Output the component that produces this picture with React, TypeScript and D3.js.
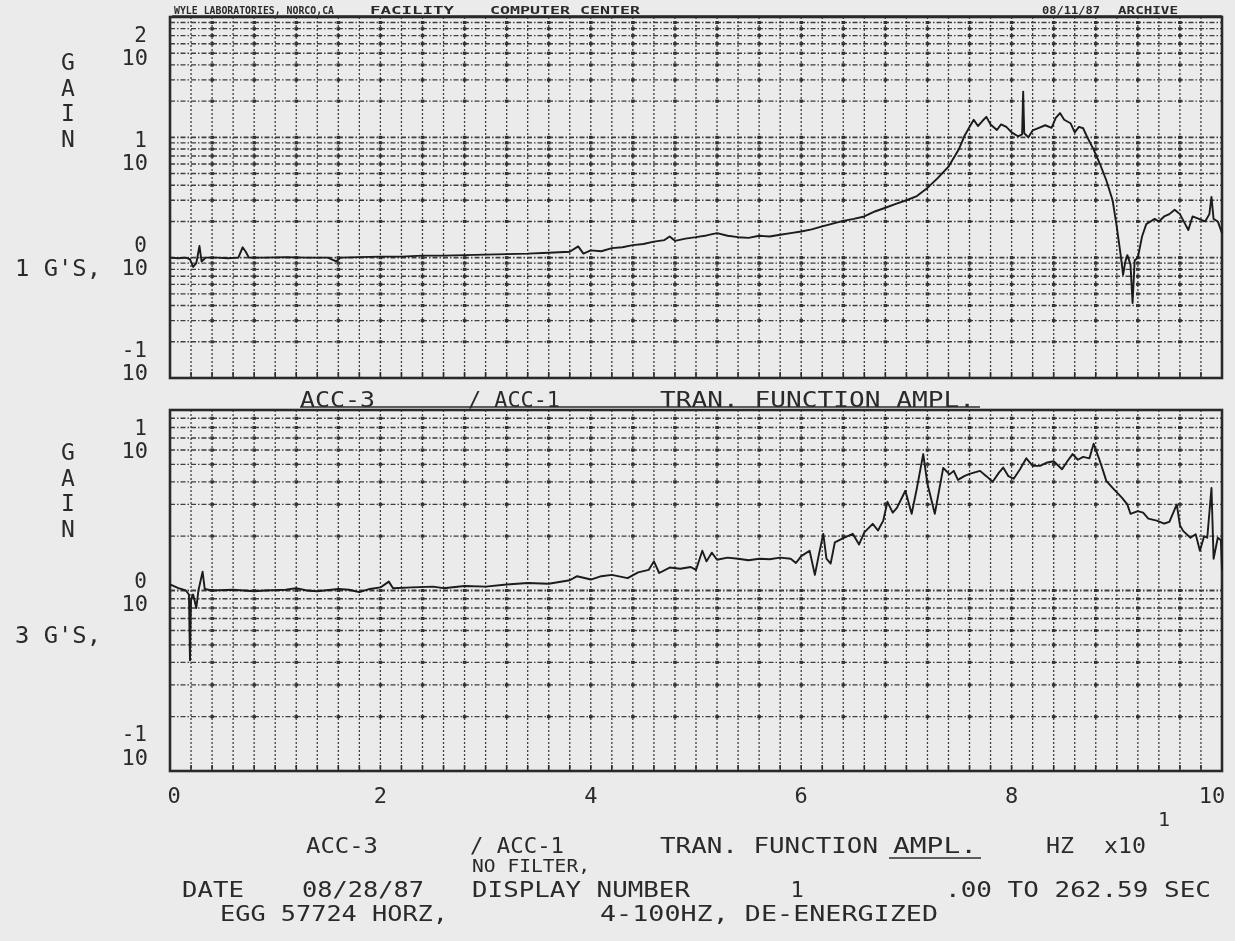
import React, { useEffect, useRef } from 'react';
import * as d3 from 'd3';

const W = 1235;
const H = 941;

// x is frequency in units of 10 Hz (axis reads "HZ x10^1")
const xTicks = [0, 2, 4, 6, 8, 10];
const upperDecades = [-1, 0, 1, 2];
const lowerDecades = [-1, 0, 1];

// ACC-3 / ACC-1 transfer function, 1 G's input
const upperPoints = [
  [0.0, 1.0], [0.08, 0.99], [0.15, 1.0], [0.19, 0.97], [0.22, 0.84], [0.25, 0.9], [0.28, 1.25],
  [0.3, 0.93], [0.34, 1.0], [0.45, 1.0], [0.55, 0.99], [0.65, 1.0], [0.69, 1.22], [0.72, 1.12],
  [0.75, 1.0], [0.9, 1.0], [1.1, 1.01], [1.3, 1.0], [1.5, 1.0], [1.58, 0.93], [1.62, 1.0],
  [1.8, 1.01], [2.0, 1.02], [2.2, 1.02], [2.4, 1.04], [2.6, 1.04], [2.8, 1.05], [3.0, 1.06],
  [3.2, 1.07], [3.4, 1.08], [3.6, 1.1], [3.8, 1.12], [3.88, 1.24], [3.93, 1.08], [4.0, 1.15],
  [4.1, 1.13], [4.2, 1.2], [4.3, 1.22], [4.4, 1.27], [4.5, 1.3], [4.6, 1.36], [4.7, 1.4],
  [4.75, 1.5], [4.8, 1.38], [4.9, 1.44], [5.0, 1.48], [5.1, 1.53], [5.2, 1.6], [5.3, 1.52],
  [5.4, 1.48], [5.5, 1.46], [5.6, 1.52], [5.7, 1.5], [5.8, 1.55], [5.9, 1.6], [6.0, 1.65],
  [6.1, 1.72], [6.2, 1.82], [6.3, 1.92], [6.4, 2.02], [6.5, 2.1], [6.6, 2.2], [6.7, 2.42],
  [6.8, 2.6], [6.9, 2.8], [7.0, 3.0], [7.1, 3.25], [7.2, 3.8], [7.3, 4.6], [7.4, 5.7],
  [7.5, 8.0], [7.55, 10.2], [7.6, 12.2], [7.64, 14.0], [7.68, 12.4], [7.72, 13.6], [7.76, 14.8],
  [7.8, 12.8], [7.86, 11.5], [7.9, 12.8], [7.95, 12.2], [8.0, 11.0], [8.06, 10.2], [8.1, 10.6],
  [8.11, 24], [8.12, 10.8], [8.16, 10.0], [8.2, 11.4], [8.26, 12.0], [8.32, 12.6], [8.38, 12.0],
  [8.42, 14.5], [8.46, 15.9], [8.5, 14.0], [8.56, 13.1], [8.6, 11.0], [8.64, 12.2], [8.68, 11.9],
  [8.72, 10.0], [8.78, 7.9], [8.84, 6.0], [8.9, 4.4], [8.96, 3.0], [9.0, 1.8], [9.04, 1.0],
  [9.06, 0.72], [9.08, 0.92], [9.1, 1.05], [9.13, 0.88], [9.15, 0.42], [9.17, 0.95], [9.2, 1.0],
  [9.24, 1.5], [9.28, 1.9], [9.32, 2.0], [9.36, 2.1], [9.4, 2.0], [9.45, 2.2], [9.5, 2.3],
  [9.55, 2.5], [9.6, 2.3], [9.65, 1.9], [9.68, 1.7], [9.72, 2.2], [9.78, 2.1], [9.84, 2.0],
  [9.88, 2.3], [9.9, 3.2], [9.92, 2.1], [9.96, 2.0], [10.0, 1.6],
];

// ACC-3 / ACC-1 transfer function, 3 G's input
const lowerPoints = [
  [0.0, 1.08], [0.08, 1.03], [0.15, 1.0], [0.18, 0.95], [0.19, 0.41], [0.2, 0.9], [0.22, 0.95],
  [0.25, 0.8], [0.27, 1.0], [0.31, 1.27], [0.33, 1.02], [0.4, 1.0], [0.6, 1.01], [0.8, 0.99],
  [0.9, 1.0], [1.1, 1.01], [1.2, 1.03], [1.3, 1.0], [1.4, 0.99], [1.6, 1.02], [1.7, 1.01],
  [1.8, 0.98], [1.9, 1.02], [2.0, 1.04], [2.08, 1.12], [2.12, 1.03], [2.3, 1.04], [2.5, 1.05],
  [2.6, 1.03], [2.8, 1.06], [3.0, 1.05], [3.2, 1.08], [3.4, 1.1], [3.6, 1.09], [3.8, 1.14],
  [3.87, 1.2], [4.0, 1.15], [4.1, 1.2], [4.2, 1.22], [4.35, 1.17], [4.45, 1.26], [4.55, 1.3],
  [4.6, 1.45], [4.65, 1.25], [4.75, 1.34], [4.85, 1.32], [4.95, 1.35], [5.0, 1.3], [5.06, 1.66],
  [5.1, 1.45], [5.15, 1.62], [5.2, 1.48], [5.3, 1.52], [5.4, 1.5], [5.5, 1.47], [5.6, 1.5],
  [5.7, 1.49], [5.8, 1.52], [5.9, 1.5], [5.95, 1.42], [6.0, 1.55], [6.08, 1.66], [6.13, 1.22],
  [6.17, 1.6], [6.21, 2.06], [6.24, 1.5], [6.28, 1.41], [6.32, 1.85], [6.4, 1.95], [6.49, 2.06],
  [6.55, 1.8], [6.6, 2.1], [6.68, 2.34], [6.73, 2.15], [6.78, 2.44], [6.82, 3.1], [6.87, 2.7],
  [6.91, 2.87], [6.99, 3.57], [7.05, 2.66], [7.1, 3.7], [7.16, 5.7], [7.2, 3.9], [7.27, 2.66],
  [7.35, 4.78], [7.41, 4.4], [7.45, 4.6], [7.49, 4.1], [7.55, 4.3], [7.6, 4.43], [7.7, 4.6],
  [7.76, 4.3], [7.82, 4.0], [7.88, 4.5], [7.92, 4.8], [7.97, 4.3], [8.02, 4.16], [8.08, 4.7],
  [8.14, 5.4], [8.2, 4.9], [8.27, 4.9], [8.33, 5.1], [8.4, 5.2], [8.48, 4.7], [8.53, 5.2],
  [8.58, 5.7], [8.63, 5.3], [8.68, 5.5], [8.74, 5.4], [8.78, 6.5], [8.83, 5.4], [8.87, 4.6],
  [8.9, 4.05], [8.96, 3.7], [9.05, 3.26], [9.1, 3.0], [9.13, 2.66], [9.2, 2.75], [9.25, 2.7],
  [9.3, 2.5], [9.38, 2.44], [9.45, 2.35], [9.5, 2.4], [9.57, 3.0], [9.6, 2.3], [9.63, 2.14],
  [9.7, 1.96], [9.75, 2.05], [9.79, 1.66], [9.83, 2.0], [9.86, 1.96], [9.9, 3.7], [9.92, 1.5],
  [9.96, 1.96], [9.99, 1.9], [10.0, 1.3],
];

const INK = '#2b2b2b';
const GRID = '#3f3f3f';
const FONT = '"DejaVu Sans Mono", "Liberation Mono", monospace';

export default function App() {
  const ref = useRef<SVGSVGElement>(null);

  useEffect(() => {
    const svg = d3.select(ref.current);
    svg.selectAll('*').remove();

    svg.append('defs').append('filter').attr('id', 'scan')
      .append('feGaussianBlur').attr('stdDeviation', 0.55);

    svg.append('rect').attr('width', W).attr('height', H).attr('fill', '#ebebeb');
    const root = svg.append('g').attr('filter', 'url(#scan)');

    const x = d3.scaleLinear().domain([0, 10]).range([170, 1222]);

    // text helper, cy = middle of the capitals
    const text = (str, tx, cy, o: any = {}) => {
      const fs = o.fs || 22;
      const t = root.append('text')
        .attr('x', tx)
        .attr('y', cy + fs * 0.36)
        .attr('font-family', FONT)
        .attr('font-size', fs)
        .attr('fill', INK)
        .attr('text-anchor', o.anchor || 'start')
        .text(str);
      if (o.w) t.attr('textLength', o.w).attr('lengthAdjust', 'spacingAndGlyphs');
      if (o.bold) t.attr('font-weight', 'bold');
      return t;
    };
    const rule = (x1, x2, ly, sw = 1.6) => root.append('line')
      .attr('x1', x1).attr('x2', x2).attr('y1', ly).attr('y2', ly)
      .attr('stroke', INK).attr('stroke-width', sw);

    const drawPanel = (panel, points) => {
      const { top, bottom, decades } = panel;
      const y = d3.scaleLog()
        .domain([10 ** decades[0], 10 ** decades[decades.length - 1]])
        .range([bottom, top]);
      const g = root.append('g');

      // vertical dotted grid every 0.2
      const vx = d3.range(1, 50).map((i) => i * 0.2);
      g.selectAll('line.v').data(vx).enter().append('line')
        .attr('x1', (d) => x(d)).attr('x2', (d) => x(d))
        .attr('y1', top).attr('y2', bottom)
        .attr('stroke', GRID).attr('stroke-width', 1.3)
        .attr('stroke-dasharray', '2,2');

      // horizontal log grid
      const hy = [];
      for (let k = 0; k < decades.length - 1; k++) {
        for (let m = 1; m <= 9; m++) {
          if (k === 0 && m === 1) continue;
          hy.push(m * 10 ** decades[k]);
        }
      }
      g.selectAll('line.h').data(hy).enter().append('line')
        .attr('x1', x(0)).attr('x2', x(10))
        .attr('y1', (d) => y(d)).attr('y2', (d) => y(d))
        .attr('stroke', GRID)
        .attr('stroke-width', (d) => (Math.abs(Math.log10(d) % 1) < 1e-6 ? 1.9 : 1.4))
        .attr('stroke-dasharray', '5,2,1.5,2');

      // heavier nodes where lines cross
      const nx = d3.range(1, 25).map((i) => i * 0.4);
      const nodes = [];
      hy.forEach((v) => nx.forEach((u) => nodes.push([u, v])));
      g.selectAll('rect.n').data(nodes).enter().append('rect')
        .attr('x', (d) => x(d[0]) - 1.8).attr('y', (d) => y(d[1]) - 1.5)
        .attr('width', 3.6).attr('height', 3)
        .attr('fill', '#333');

      // ticks on the bottom edge
      g.selectAll('line.t').data(vx).enter().append('line')
        .attr('x1', (d) => x(d)).attr('x2', (d) => x(d))
        .attr('y1', bottom).attr('y2', bottom - 6)
        .attr('stroke', INK).attr('stroke-width', 1.6);

      g.append('rect')
        .attr('x', x(0)).attr('y', top)
        .attr('width', x(10) - x(0)).attr('height', bottom - top)
        .attr('fill', 'none').attr('stroke', INK).attr('stroke-width', 2.6);

      const line = d3.line().x((d) => x(d[0])).y((d) => y(d[1]));
      g.append('path').datum(points)
        .attr('d', line)
        .attr('fill', 'none').attr('stroke', '#1a1a1a')
        .attr('stroke-width', 1.9).attr('stroke-linejoin', 'round');

      // decade labels 10^n, squeezed inside the panel
      decades.forEach((e) => {
        const ly = y(10 ** e);
        const cy = ly + 40 - panel.squeeze * (ly - top);
        text('10', 148, cy, { anchor: 'end', fs: 22 });
        text(String(e), 147, cy - 23, { anchor: 'end', fs: 21 });
      });

      panel.gain.forEach((c, i) => text(c, 68, panel.gainTop + i * 25.5, { anchor: 'middle', fs: 23 }));
      text(panel.gs[0], 15, panel.gs[1], { fs: 23, w: 86 });
    };

    drawPanel(
      { top: 17, bottom: 378, decades: upperDecades, squeeze: 0.127, gain: ['G', 'A', 'I', 'N'], gainTop: 62, gs: ["1 G'S,", 268] },
      upperPoints,
    );
    drawPanel(
      { top: 410, bottom: 771, decades: lowerDecades, squeeze: 0.15, gain: ['G', 'A', 'I', 'N'], gainTop: 452, gs: ["3 G'S,", 635] },
      lowerPoints,
    );

    // plotter header above the first frame
    text('WYLE LABORATORIES, NORCO,CA', 174, 10, { fs: 10, bold: true, w: 160 });
    text('FACILITY', 370, 10, { fs: 10, bold: true, w: 84 });
    text('COMPUTER CENTER', 490, 10, { fs: 10, bold: true, w: 150 });
    text('08/11/87', 1042, 10, { fs: 10, bold: true, w: 58 });
    text('ARCHIVE', 1118, 10, { fs: 10, bold: true, w: 60 });
    rule(172, 1222, 16);

    // title between the frames
    text('ACC-3', 300, 399, { w: 75 });
    text('/ ACC-1', 468, 399, { w: 92 });
    text('TRAN. FUNCTION AMPL.', 660, 399, { w: 315 });
    rule(300, 980, 407, 1.4);

    // x tick labels
    xTicks.forEach((t) => {
      const tx = t === 0 ? x(t) + 4 : t === 10 ? x(t) - 10 : x(t);
      text(String(t), tx, 795, { anchor: 'middle' });
    });

    // footer
    text('ACC-3', 306, 845, { w: 72 });
    text('/ ACC-1', 470, 845, { w: 94 });
    text('TRAN. FUNCTION', 660, 845, { w: 218 });
    text('AMPL.', 893, 845, { w: 84 });
    rule(889, 981, 858);
    text('HZ', 1046, 845, { w: 28 });
    text('x10', 1104, 845, { w: 42 });
    text('1', 1164, 819, { anchor: 'middle', fs: 20 });
    text('NO FILTER,', 472, 866, { w: 118, fs: 17 });
    text('DATE', 182, 889, { w: 62 });
    text('08/28/87', 302, 889, { w: 122 });
    text('DISPLAY NUMBER', 472, 889, { w: 218 });
    text('1', 797, 889, { anchor: 'middle' });
    text('.00 TO 262.59 SEC', 945, 889, { w: 266 });
    text('EGG 57724 HORZ,', 220, 913, { w: 228 });
    text('4-100HZ, DE-ENERGIZED', 600, 913, { w: 338 });
  }, []);

  return (
    <svg
      ref={ref}
      width={W}
      height={H}
      style={{ position: 'absolute', left: 0, top: 0, display: 'block' }}
    />
  );
}
